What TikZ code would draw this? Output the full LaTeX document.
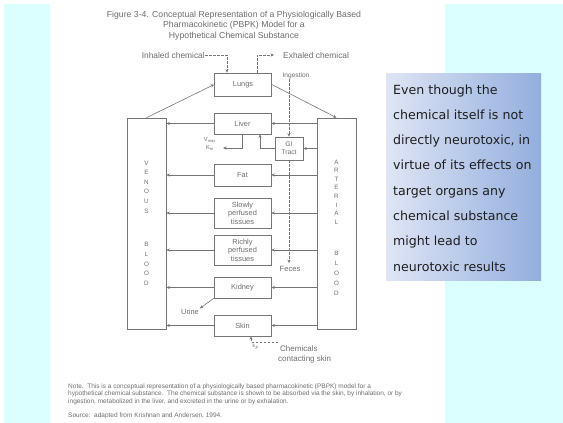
\documentclass[tikz,border=0pt]{standalone}
\usepackage{fontspec}
\setmainfont{Liberation Sans}
\newfontfamily\boxfont{DejaVu Sans}
\usetikzlibrary{arrows.meta}
\definecolor{bgc}{HTML}{DBFFFF}
\definecolor{lc}{HTML}{757575}
\definecolor{tc}{HTML}{6E6E6E}
\definecolor{gl}{HTML}{DFE5F4}
\definecolor{gr}{HTML}{93AEDE}
\definecolor{tx}{HTML}{1E1E1E}
\begin{document}
\begin{tikzpicture}[x=1pt,y=-1pt,
  lbl/.style={font=\fontsize{8.4}{9}\selectfont, text=tc, inner sep=0},
  ttl/.style={font=\fontsize{8.7}{9}\selectfont, text=tc, inner sep=0},
  note/.style={font=\fontsize{6.5}{7}\selectfont, text=tc, inner sep=0, anchor=base west},
  orgbox/.style={draw=lc, line width=0.6pt, minimum width=57pt, inner sep=0, align=center,
    font=\fontsize{7.4}{8.6}\selectfont, text=tc},
  blood/.style={draw=lc, line width=0.6pt, minimum width=39pt, minimum height=211pt, inner sep=0},
  letters/.style={align=center, inner sep=0, font=\fontsize{6.3}{9.6}\selectfont, text=tc},
  flow/.style={draw=lc, line width=0.6pt, -{Stealth[length=3.5pt,width=3pt]}},
  dsh/.style={dash pattern=on 2.5pt off 1.5pt},
  txt/.style={anchor=base west, inner sep=0, font=\boxfont\fontsize{12.6}{14}\selectfont, text=tx}]
\useasboundingbox (0,0) rectangle (563,423);
% backgrounds
\fill[bgc] (4,4) rectangle (563,423);
\fill[white] (50,0) rectangle (445,423);

% title
\node[ttl] (t1) at (234,15) {Figure 3-4. Conceptual Representation of a Physiologically Based};
\node[ttl] (t2) at (234,25.5) {Pharmacokinetic (PBPK) Model for a};
\node[ttl] (t3) at (234,36) {Hypothetical Chemical Substance};

% blood compartments
\node[blood] (ven) at (146.5,223.5) {};
\node[blood] (art) at (336.5,223.5) {};
\node[letters] (vl1) at (146.5,187) {V\\E\\N\\O\\U\\S};
\node[letters] (vl2) at (146.5,264) {B\\L\\O\\O\\D};
\node[letters, font=\fontsize{6.3}{8.6}\selectfont] (al1) at (336.5,192) {A\\R\\T\\E\\R\\I\\A\\L};
\node[letters, font=\fontsize{6.3}{10}\selectfont] (al2) at (336.5,273) {B\\L\\O\\O\\D};

% organ boxes
\node[orgbox, minimum height=23pt] (lungs) at (243,84.5) {Lungs};
\node[orgbox, minimum height=21pt] (liver) at (242.5,123.5) {Liver};
\node[orgbox, minimum width=28pt, minimum height=23pt, font=\fontsize{6.8}{7.8}\selectfont] (gi) at (289,148.5) {GI\\Tract};
\node[orgbox, minimum height=22pt] (fat) at (242.5,175) {Fat};
\node[orgbox, minimum height=30pt] (slow) at (242.5,213) {Slowly\\perfused\\tissues};
\node[orgbox, minimum height=30pt] (rapid) at (242.5,250) {Richly\\perfused\\tissues};
\node[orgbox, minimum height=21pt] (kid) at (242.5,287.5) {Kidney};
\node[orgbox, minimum height=21pt] (skin) at (242.5,325.5) {Skin};

% lungs circulation
\draw[flow] (ven.north) -- (lungs.west);
\draw[flow] (lungs.east) -- (art.north);

% organ flows: arterial -> organ -> venous
\foreach \o in {liver,fat,slow,rapid,kid,skin}{
  \draw[flow] (art.west |- \o.east) -- (\o.east);
  \draw[flow] (\o.west) -- (ven.east |- \o.west);
}
\draw[flow] (art.west |- gi.east) -- (gi.east);
\draw[flow] (gi.west) -| ([xshift=17.5pt]liver.south);

% metabolism
\coordinate (met) at (223,148);
\draw[flow] (liver.south) |- (met);
\node[lbl, font=\fontsize{5.8}{7.5}\selectfont, align=center] (vm) at (210,144) {V$_{\mathrm{max}}$\\K$_{\mathrm{m}}$};

% inhaled / exhaled
\node[lbl, anchor=east] (inh) at (205,55) {Inhaled chemical};
\node[lbl, anchor=west] (exh) at (283,55) {Exhaled chemical};
\draw[flow, dsh] (inh.east) -| ([xshift=-16pt]lungs.north);
\draw[flow, dsh, shorten >=9pt] ([xshift=14pt]lungs.north) |- (exh.west);

% ingestion and feces
\node[lbl, font=\fontsize{6.6}{7}\selectfont, anchor=south] (ing) at (296,79) {Ingestion};
\node[lbl, font=\fontsize{7.6}{8}\selectfont] (fec) at (290,269) {Feces};
\draw[flow, dsh] (ing.south -| gi.north) -- (gi.north);
\draw[flow, dsh, shorten >=3pt] (gi.south) -- (gi.south |- fec.north);

% urine
\node[lbl, font=\fontsize{7.4}{8}\selectfont] (uri) at (190,312) {Urine};
\draw[flow, shorten >=1pt] (kid.south west) -- (uri.north east);

% skin contact
\node[lbl, anchor=north west, align=left, font=\fontsize{8}{10}\selectfont] (chem) at (278,346) {\hspace*{2pt}Chemicals\\contacting skin};
\node[lbl, font=\fontsize{5}{6}\selectfont] (kp) at (256,347) {k$_p$};
\draw[flow, dsh] ([yshift=4pt]chem.north west) -| ([xshift=8.5pt]skin.south);

% note
\node[note] (n1) at (68,388) {Note.\ \ This is a conceptual representation of a physiologically based pharmacokinetic (PBPK) model for a};
\node[note] (n2) at (68,395.5) {hypothetical chemical substance.\ \ The chemical substance is shown to be absorbed via the skin, by inhalation, or by};
\node[note] (n3) at (68,403) {ingestion, metabolized in the liver, and excreted in the urine or by exhalation.};
\node[note] (n4) at (68,417) {Source:\ \ adapted from Krishnan and Andersen, 1994.};

% text box
\node[minimum width=155pt, minimum height=207pt, inner sep=0, left color=gl, right color=gr] (tb) at (463.5,176.5) {};
\foreach \t [count=\i] in {Even though the, chemical itself is not, {directly neurotoxic, in}, virtue of its effects on, target organs any, chemical substance, might lead to, neurotoxic results}
  \node[txt] (tl\i) at (393,{68.7+25.3*\i}) {\t};
\end{tikzpicture}
\end{document}
